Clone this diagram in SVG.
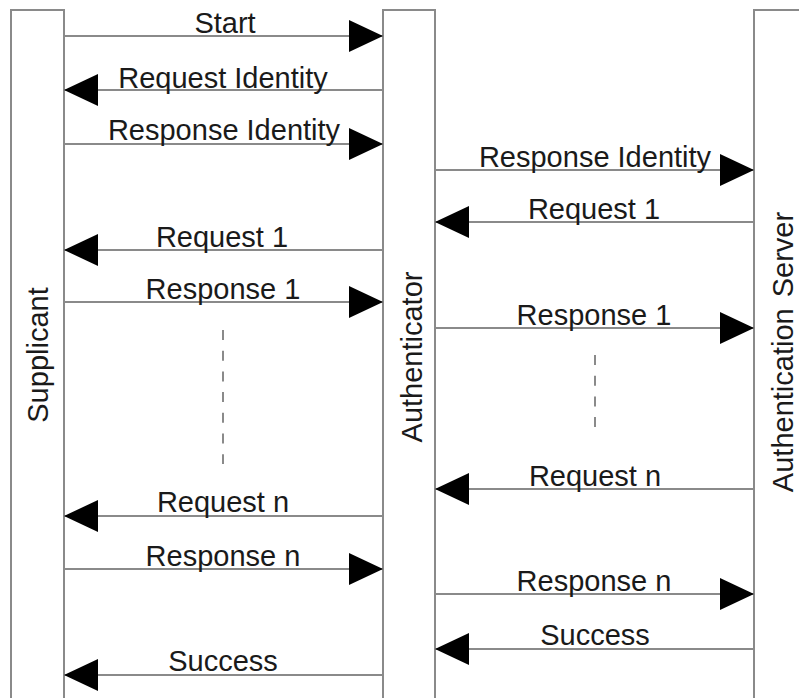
<svg xmlns="http://www.w3.org/2000/svg" width="799" height="698" viewBox="0 0 799 698">
  <style>
    .bar { fill: #ffffff; stroke: #8a8a8a; stroke-width: 2; }
    .msg { stroke: #8a8a8a; stroke-width: 2; fill: none; marker-end: url(#head); }
    .gap { stroke: #8a8a8a; stroke-width: 2; stroke-dasharray: 10 10.7; fill: none; }
    .lbl { font-family: "Liberation Sans", Arial, sans-serif; font-size: 29px; fill: #1a1a1a; text-anchor: middle; }
  </style>
  <defs>
    <marker id="head" viewBox="0 0 34 32" refX="34" refY="16" markerWidth="34" markerHeight="32" markerUnits="userSpaceOnUse" orient="auto">
      <path d="M0,0 L34,16 L0,32 z" fill="#000000"/>
    </marker>
  </defs>
  <rect width="799" height="698" fill="#ffffff"/>

  <!-- lifelines -->
  <g id="supplicant">
    <rect class="bar" x="11" y="10" width="53" height="700"/>
    <text class="lbl" transform="translate(48,355) rotate(-90)">Supplicant</text>
  </g>
  <g id="authenticator">
    <rect class="bar" x="383" y="10" width="52" height="700"/>
    <text class="lbl" transform="translate(422,357) rotate(-90)">Authenticator</text>
  </g>
  <g id="server">
    <rect class="bar" x="754" y="10" width="60" height="700"/>
    <text class="lbl" transform="translate(793,352) rotate(-90)" font-size="30" word-spacing="3">Authentication Server</text>
  </g>

  <!-- messages -->
  <g id="connectors">
    <line class="msg" x1="64" y1="36" x2="383" y2="36"/>
    <line class="msg" x1="383" y1="90" x2="64" y2="90"/>
    <line class="msg" x1="64" y1="144" x2="383" y2="144"/>
    <line class="msg" x1="435" y1="170" x2="754" y2="170"/>
    <line class="msg" x1="754" y1="222" x2="435" y2="222"/>
    <line class="msg" x1="383" y1="250" x2="64" y2="250"/>
    <line class="msg" x1="64" y1="302" x2="383" y2="302"/>
    <line class="msg" x1="435" y1="328" x2="754" y2="328"/>
    <line class="gap" x1="223" y1="330" x2="223" y2="464"/>
    <line class="gap" x1="595" y1="355" x2="595" y2="431"/>
    <line class="msg" x1="754" y1="489" x2="435" y2="489"/>
    <line class="msg" x1="383" y1="516" x2="64" y2="516"/>
    <line class="msg" x1="64" y1="569" x2="383" y2="569"/>
    <line class="msg" x1="435" y1="594" x2="754" y2="594"/>
    <line class="msg" x1="754" y1="649" x2="435" y2="649"/>
    <line class="msg" x1="383" y1="675" x2="64" y2="675"/>
  </g>

  <!-- message labels -->
  <g id="labels">
    <text class="lbl" x="225" y="33">Start</text>
    <text class="lbl" x="223" y="88">Request Identity</text>
    <text class="lbl" x="224" y="140">Response Identity</text>
    <text class="lbl" x="595" y="167">Response Identity</text>
    <text class="lbl" x="594" y="219">Request 1</text>
    <text class="lbl" x="222" y="247">Request 1</text>
    <text class="lbl" x="223" y="299">Response 1</text>
    <text class="lbl" x="594" y="325">Response 1</text>
    <text class="lbl" x="595" y="486">Request n</text>
    <text class="lbl" x="223" y="512">Request n</text>
    <text class="lbl" x="223" y="566">Response n</text>
    <text class="lbl" x="594" y="591">Response n</text>
    <text class="lbl" x="595" y="645">Success</text>
    <text class="lbl" x="223" y="671">Success</text>
  </g>
</svg>
